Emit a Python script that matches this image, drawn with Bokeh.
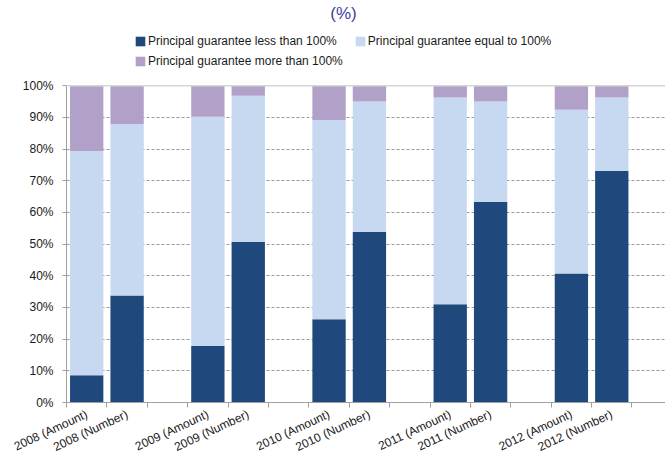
from bokeh.plotting import figure
from bokeh.models import (ColumnDataSource, Range1d, FixedTicker, PrintfTickFormatter,
                          Legend, LegendItem, Label, Span)
from bokeh.embed import file_html
from bokeh.resources import INLINE
import math

categories = ["2008 (Amount)", "2008 (Number)", "2009 (Amount)", "2009 (Number)",
              "2010 (Amount)", "2010 (Number)", "2011 (Amount)", "2011 (Number)",
              "2012 (Amount)", "2012 (Number)"]
less_than_100 = [8.6, 33.8, 17.8, 50.7, 26.3, 53.8, 31.0, 63.4, 40.7, 73.1]
equal_to_100 = [70.8, 54.1, 72.4, 46.1, 62.9, 41.2, 65.3, 31.6, 51.7, 23.2]
more_than_100 = [20.6, 12.1, 9.8, 3.2, 10.8, 5.0, 3.7, 5.0, 7.6, 3.7]
series_names = ["Principal guarantee less than 100%",
                "Principal guarantee equal to 100%",
                "Principal guarantee more than 100%"]
y_ticks = [0, 10, 20, 30, 40, 50, 60, 70, 80, 90, 100]

colors = ["#1F497D", "#C6D9F1", "#B1A0C7"]
FONT = "Liberation Sans"

# slot positions: pairs separated by an empty slot
xpos = [i + i // 2 + 0.5 for i in range(len(categories))]
n_slots = len(categories) + len(categories) // 2

src = ColumnDataSource(dict(x=xpos, less=less_than_100, equal=equal_to_100, more=more_than_100))

p = figure(width=665, height=465, output_backend="svg", toolbar_location=None, tools="",
           x_range=Range1d(0, 14.83), y_range=Range1d(0, 126.9),
           min_border_left=66, min_border_right=0, min_border_top=0, min_border_bottom=63)
p.outline_line_color = None
p.background_fill_color = "white"
p.border_fill_color = "white"

renderers = p.vbar_stack(["less", "equal", "more"], x="x", width=0.825, source=src,
                         color=colors, line_color=None)

# grid
p.xgrid.visible = False
p.ygrid.ticker = FixedTicker(ticks=y_ticks[1:-1])
p.ygrid.grid_line_color = "#999999"
p.ygrid.grid_line_dash = "3 2"
p.ygrid.grid_line_width = 1
p.add_layout(Span(location=100, dimension="width", line_color="#d6d6d6", line_width=1.5))

# y axis
p.yaxis.ticker = FixedTicker(ticks=y_ticks)
p.yaxis.formatter = PrintfTickFormatter(format="%d%%")
p.yaxis.bounds = (0, 100)
p.yaxis.axis_line_color = "#a0a0a0"
p.yaxis.major_tick_line_color = "#a0a0a0"
p.yaxis.major_tick_out = 4
p.yaxis.major_tick_in = 0
p.yaxis.minor_tick_line_color = None
p.yaxis.major_label_standoff = 9
p.yaxis.major_label_text_font = FONT
p.yaxis.major_label_text_font_size = "12px"
p.yaxis.major_label_text_color = "#1a1a1a"

# x axis
p.xaxis.ticker = FixedTicker(ticks=xpos, minor_ticks=list(range(0, n_slots + 1)))
p.xaxis.major_label_overrides = {x: c for x, c in zip(xpos, categories)}
p.xaxis.major_label_orientation = math.radians(25)
p.xaxis.axis_line_color = "#a0a0a0"
p.xaxis.major_tick_line_color = None
p.xaxis.major_tick_out = 0
p.xaxis.major_tick_in = 0
p.xaxis.minor_tick_line_color = "#a0a0a0"
p.xaxis.minor_tick_out = 5
p.xaxis.minor_tick_in = 0
p.xaxis.major_label_standoff = 6
p.xaxis.major_label_text_font = FONT
p.xaxis.major_label_text_font_size = "12px"
p.xaxis.major_label_text_color = "#1a1a1a"

# legends
common = dict(orientation="horizontal", glyph_width=12, glyph_height=12, label_height=12,
              label_standoff=2, spacing=17, padding=0, margin=0, border_line_color=None,
              background_fill_alpha=0, label_text_font=FONT, label_text_font_size="12px",
              label_text_color="#1a1a1a")
leg1 = Legend(items=[LegendItem(label=series_names[0], renderers=[renderers[0]]),
                     LegendItem(label=series_names[1], renderers=[renderers[1]])],
              location=(68, 354), **common)
leg2 = Legend(items=[LegendItem(label=series_names[2], renderers=[renderers[2]])],
              location=(68, 334), **common)
p.add_layout(leg1)
p.add_layout(leg2)

p.add_layout(Label(x=277, y=389, x_units="screen", y_units="screen", text="(%)",
                   text_align="center", text_baseline="middle", text_font=FONT,
                   text_font_size="17px", text_color="#4040a0"))

open("out.html", "w").write(file_html(p, INLINE))
